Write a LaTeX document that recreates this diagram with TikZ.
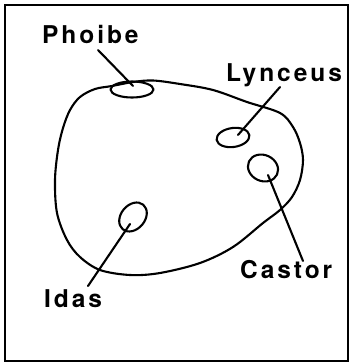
\documentclass[tikz,border=0pt]{standalone}
\usepackage{fontspec}
\newfontfamily\labfont[LetterSpace=12]{TeX Gyre Heros}
\usetikzlibrary{shapes.geometric}
\begin{document}
\begin{tikzpicture}[x=1pt,y=-1pt,
  stroke/.style={line width=2.1pt,line join=round,line cap=round},
  lab/.style={anchor=base west,inner sep=0pt,font=\labfont\bfseries\fontsize{24.5}{24.5}\selectfont},
  blobell/.style={stroke,draw,ellipse,inner sep=0pt}]
\useasboundingbox (0,0) rectangle (350,364);
% frame
\draw[line width=2pt] (5,5) rectangle (348,361);
% blob
\draw[stroke] plot[smooth cycle,tension=0.55] coordinates {
 (112,86) (133,82) (153,80.5) (180,84) (213,90) (247,102) (280,113) (293,127)
 (300,143) (303,160) (300,180) (292,197) (280,210) (263,223) (233,247)
 (200,263) (160,273) (130,275) (100,270) (80,257) (67,240) (57,213) (55,180)
 (58,150) (63,128) (70,110) (80,97) (95,89)};
% small ellipses
\node[blobell,minimum width=43pt,minimum height=16pt] (phoe) at (132,89.5) {};
\node[blobell,minimum width=33pt,minimum height=19pt,rotate=8] (lyne) at (233,137.5) {};
\node[blobell,minimum width=31pt,minimum height=26pt,rotate=-25] (case) at (263,168) {};
\node[blobell,minimum width=32pt,minimum height=24pt,rotate=50] (idae) at (133,217) {};
% labels
\node[lab] (phoibe) at (42,43) {Phoibe};
\node[lab] (lynceus) at (226,81) {Lynceus};
\node[lab] (castor) at (240,278) {Castor};
\node[lab] (idas) at (44,307) {Idas};
% leader ends
\coordinate (pa) at (98,50);   \coordinate (pb) at (133,86);
\coordinate (la) at (280,87);  \coordinate (lb) at (238,135);
\coordinate (ca) at (268,175); \coordinate (cb) at (303,261);
\coordinate (ia) at (130,224); \coordinate (ib) at (88,286);
\draw[stroke] (pa) -- (pb);
\draw[stroke] (la) -- (lb);
\draw[stroke] (ca) -- (cb);
\draw[stroke] (ia) -- (ib);
\end{tikzpicture}
\end{document}
